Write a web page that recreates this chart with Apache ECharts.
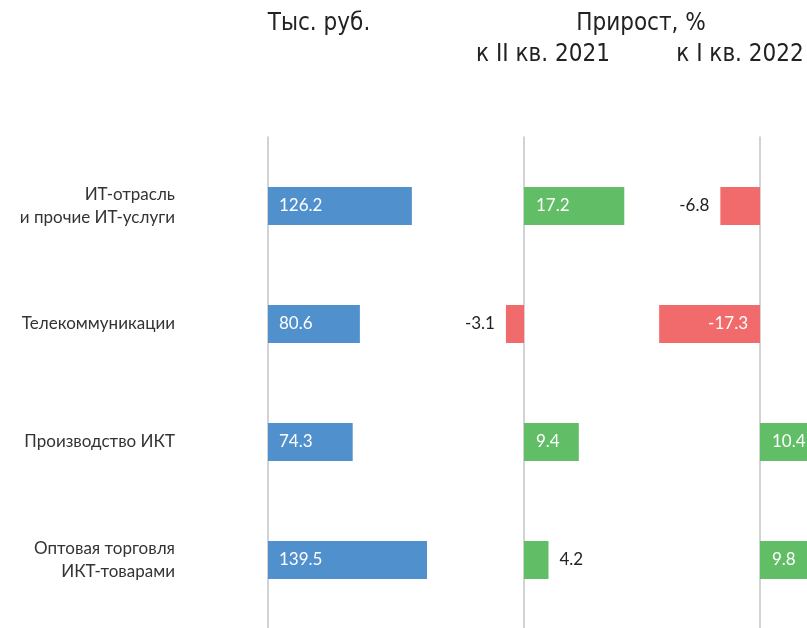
<!DOCTYPE html>
<html>
<head>
<meta charset="utf-8">
<script src="https://cdn.jsdelivr.net/npm/echarts@6/dist/echarts.min.js"></script>
<style>
  html, body { margin: 0; padding: 0; background: #fff; }
  #main { width: 807px; height: 628px; }
</style>
</head>
<body>
<div id="main"></div>
<script>
const categories = ['ИТ-отрасль\nи прочие ИТ-услуги', 'Телекоммуникации', 'Производство ИКТ', 'Оптовая торговля\nИКТ-товарами'];
const salary = [126.2, 80.6, 74.3, 139.5];          // тыс. руб.
const growthVsQ2_2021 = [17.2, -3.1, 9.4, 4.2];     // %
const growthVsQ1_2022 = [-6.8, -17.3, 10.4, 9.8];   // %

const BLUE = '#5091cd', GREEN = '#62bd67', RED = '#f26b6c', LINE = '#c4c4c8';
const FONT = 'Lato';
const TITLE_FONT = '"Liberation Sans Narrow", "DejaVu Sans Condensed", sans-serif';

const chart = echarts.init(document.getElementById('main'), null, { renderer: 'canvas' });

// px per unit for the two growth panels
const k = 5.83;
const panels = [
  { left: 268, min: 0, max: 150, width: 171 },
  { left: 524 - 10 * k, min: -10, max: 20, width: 30 * k },
  { left: 760 - 20 * k, min: -20, max: 15, width: 35 * k }
];

function growthItem(v) {
  const inside = Math.abs(v) >= 8;
  return {
    value: v,
    itemStyle: { color: v < 0 ? RED : GREEN },
    label: {
      position: inside ? (v < 0 ? 'insideRight' : 'insideLeft') : (v < 0 ? 'left' : 'right'),
      color: inside ? '#fff' : '#222',
      distance: inside ? 12 : 11
    }
  };
}

const grids = [], xAxes = [], yAxes = [];
panels.forEach(function (p, i) {
  // bar grid
  grids.push({ left: p.left, width: p.width, top: 147, height: 472, outerBoundsMode: 'none' });
  xAxes.push({ type: 'value', gridIndex: i, min: p.min, max: p.max, show: false });
  yAxes.push({
    type: 'category', gridIndex: i, data: categories, inverse: true,
    axisLine: { show: false }, axisTick: { show: false },
    axisLabel: i === 0 ? {
      show: true, margin: 93, fontFamily: FONT, fontSize: 17, color: '#333',
      lineHeight: 23, align: 'right', padding: [0, 0, 12, 0]
    } : { show: false }
  });
});
panels.forEach(function (p, i) {
  // baseline grid (vertical zero line spanning the full height)
  const gi = grids.length;
  grids.push({ left: p.left, width: p.width, top: 137, height: 491, outerBoundsMode: 'none' });
  xAxes.push({ type: 'value', gridIndex: gi, min: p.min, max: p.max, show: false });
  yAxes.push({
    type: 'category', gridIndex: gi, data: [''],
    axisLine: { show: true, onZero: true, lineStyle: { color: LINE, width: 1.5 } },
    axisTick: { show: false }, axisLabel: { show: false }
  });
});

const labelBase = { show: true, fontFamily: FONT, fontSize: 17, formatter: function (p) { return p.value.toFixed(1); } };

const titleStyle = { textAlign: 'center', textVerticalAlign: 'middle', font: '24px ' + TITLE_FONT, fill: '#222' };

const option = {
  animation: false,
  backgroundColor: '#fff',
  grid: grids,
  xAxis: xAxes,
  yAxis: yAxes,
  graphic: [
    { type: 'text', x: 319, y: 24, style: Object.assign({ text: 'Тыс. руб.' }, titleStyle) },
    { type: 'text', x: 641, y: 24, style: Object.assign({ text: 'Прирост, %' }, titleStyle) },
    { type: 'text', x: 543, y: 55, style: Object.assign({ text: 'к II кв. 2021' }, titleStyle) },
    { type: 'text', x: 740, y: 55, style: Object.assign({ text: 'к I кв. 2022' }, titleStyle) }
  ],
  series: [
    {
      type: 'bar', xAxisIndex: 0, yAxisIndex: 0, barWidth: 38,
      data: salary,
      itemStyle: { color: BLUE },
      label: Object.assign({}, labelBase, { position: 'insideLeft', color: '#fff', distance: 11 })
    },
    {
      type: 'bar', xAxisIndex: 1, yAxisIndex: 1, barWidth: 38,
      data: growthVsQ2_2021.map(growthItem),
      label: labelBase
    },
    {
      type: 'bar', xAxisIndex: 2, yAxisIndex: 2, barWidth: 38,
      data: growthVsQ1_2022.map(growthItem),
      label: labelBase
    }
  ]
};

chart.setOption(option);
</script>
</body>
</html>
